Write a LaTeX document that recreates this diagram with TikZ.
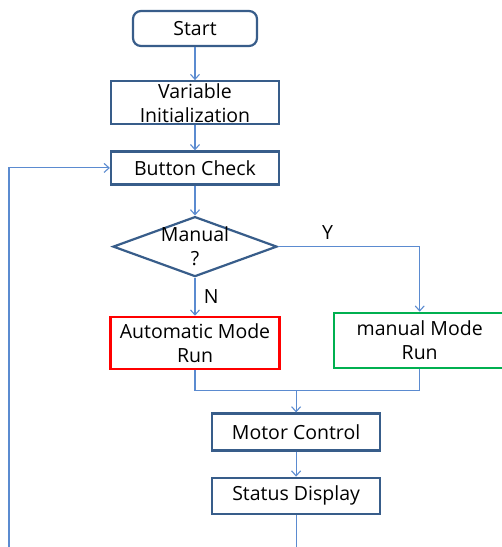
\documentclass[tikz,border=0pt]{standalone}
\usepackage{fontspec}
\setmainfont{Open Sans}
\usepackage{tikz}
\usetikzlibrary{arrows.meta,positioning,shapes.geometric,calc}
\definecolor{boxblue}{HTML}{385D8A}
\definecolor{lineblue}{HTML}{5B8BD0}
\definecolor{autored}{HTML}{FF0000}
\definecolor{mangreen}{HTML}{00B050}
\tikzset{
  procbox/.style={
    rectangle, draw=#1, fill=white, line width=2.2pt,
    minimum width=168pt, minimum height=34pt,
    font=\fontsize{19.5}{24}\selectfont, align=center,
    inner sep=2pt
  },
  procbox/.default=boxblue,
  startbox/.style={
    procbox, rounded corners=8pt, minimum width=124pt, minimum height=35pt
  },
  decisionbox/.style={
    diamond, draw=boxblue, fill=white, line width=2.2pt,
    minimum width=164pt, minimum height=60pt, inner sep=0pt
  },
  flowarrow/.style={
    -{Straight Barb[length=5pt,width=9pt]}, line width=1.1pt, color=#1
  },
  flowarrow/.default=lineblue,
  flowline/.style={
    line width=1.1pt, color=lineblue
  },
  yesno/.style={
    font=\fontsize{19.5}{24}\selectfont, text=black
  },
}
\begin{document}
\begin{tikzpicture}[x=1pt,y=1pt]
  \useasboundingbox (0,0) rectangle (502,-547);

  \node[startbox] at (195,-28.5) (start) {Start};
  \node[procbox, minimum height=43pt, below=33pt of start] (init)
    {Variable\\Initialization};
  \node[procbox, minimum height=33pt, below=25pt of init] (check) {Button Check};
  \node[decisionbox, below=30pt of check,
    label={[yesno, align=center]center:Manual\\?}] (manual) {};

  \node[procbox=autored, minimum width=169pt, minimum height=52pt,
    below=38pt of manual] (auto) {Automatic Mode\\Run};
  \node[procbox=mangreen, minimum width=172pt, minimum height=55pt,
    right=52pt of auto, yshift=2.5pt] (manrun) {manual Mode\\Run};

  \coordinate (join) at ($(auto.south)!0.45!(manrun.south)+(0,-21pt)$);
  \node[procbox, minimum height=37pt, below=22pt of join] (motor) {Motor Control};
  \node[procbox, minimum height=36pt, below=25pt of motor] (status) {Status Display};

  \coordinate (statbot) at (status.south |- 0,-547);
  \coordinate (loopbot) at (9,-547);

  \draw[flowarrow] (start) -- (init);
  \draw[flowarrow] (init) -- (check);
  \draw[flowarrow] (check) -- (manual);
  \draw[flowarrow] (manual) -- node[yesno, right=5pt] {N} (auto);
  \draw[flowarrow] (manual.east) -| node[yesno, pos=0.175, above=3pt] {Y} (manrun);
  \draw[flowline] (auto.south) |- (join) -| (manrun.south);
  \draw[flowarrow] (join) -- (motor);
  \draw[flowarrow] (motor) -- (status);
  \draw[flowline] (status) -- (statbot);
  \draw[flowarrow] (loopbot) |- (check.west);
\end{tikzpicture}
\end{document}
